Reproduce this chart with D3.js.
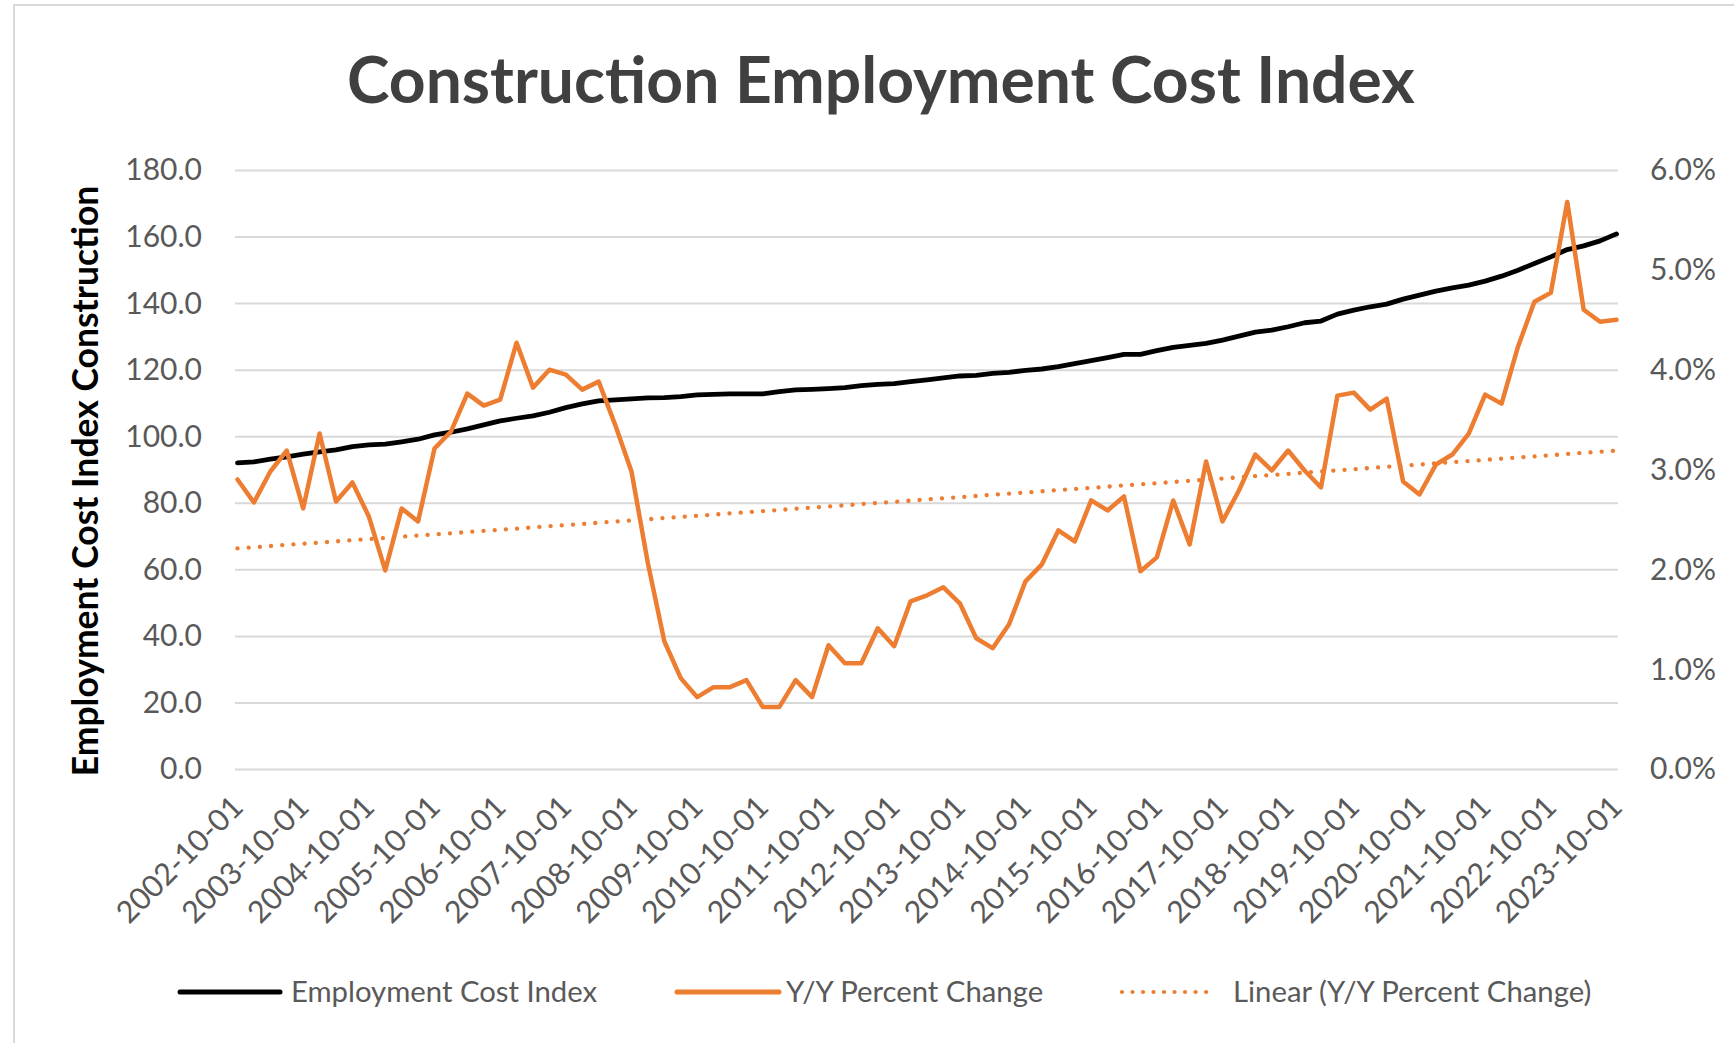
<!DOCTYPE html>
<html><head><meta charset="utf-8">
<script src="https://cdn.jsdelivr.net/npm/d3@7"></script>
<style>html,body{margin:0;padding:0;background:#fff;overflow:hidden}</style>
</head><body><svg id="c" width="1734" height="1043"></svg>
<script>
// ---------- data ----------
const chartTitle = "Construction Employment Cost Index";
const yAxisTitle = "Employment Cost Index Construction";
const tickLabels = ["2002-10-01","2003-10-01","2004-10-01","2005-10-01","2006-10-01","2007-10-01",
  "2008-10-01","2009-10-01","2010-10-01","2011-10-01","2012-10-01","2013-10-01","2014-10-01",
  "2015-10-01","2016-10-01","2017-10-01","2018-10-01","2019-10-01","2020-10-01","2021-10-01",
  "2022-10-01","2023-10-01"];
const quarterMonths = ["01","04","07","10"];
const eciValues = [
  92.0, 92.3, 93.1, 93.8, 94.6, 95.3, 95.9, 96.9, 97.4, 97.6,
  98.3, 99.1,100.4,101.2,102.2,103.4,104.6,105.4,106.1,107.2,
 108.6,109.7,110.6,110.9,111.2,111.5,111.6,111.9,112.4,112.6,
 112.7,112.7,112.7,113.4,113.9,114.1,114.3,114.6,115.2,115.6,
 115.8,116.4,116.9,117.5,118.1,118.3,118.9,119.2,119.8,120.2,
 120.9,121.8,122.7,123.6,124.6,124.6,125.7,126.7,127.3,127.9,
 128.9,130.1,131.3,131.9,132.9,134.1,134.6,136.7,137.9,138.9,
 139.7,141.2,142.4,143.6,144.6,145.4,146.6,148.1,149.9,151.9,
 153.9,156.1,157.2,158.7,160.8];
const yoyValues = [
 2.90,2.67,2.98,3.19,2.61,3.36,2.68,2.87,2.53,1.99,
 2.61,2.48,3.21,3.38,3.76,3.64,3.70,4.27,3.82,4.00,
 3.95,3.80,3.88,3.45,2.98,2.06,1.28,0.91,0.72,0.82,
 0.82,0.89,0.62,0.62,0.89,0.72,1.24,1.06,1.06,1.41,
 1.23,1.68,1.74,1.82,1.66,1.31,1.21,1.45,1.88,2.05,
 2.39,2.28,2.69,2.59,2.73,1.98,2.12,2.69,2.25,3.08,
 2.48,2.79,3.15,2.99,3.19,2.99,2.82,3.74,3.77,3.60,
 3.71,2.88,2.75,3.05,3.15,3.36,3.75,3.66,4.23,4.68,
 4.77,5.68,4.60,4.48,4.50];
const trendEnds = [2.21, 3.19];   // linear trendline at first and last quarter
const leftTicks = [0,20,40,60,80,100,120,140,160,180];
const rightTicks = [0,1,2,3,4,5,6];
const legendLabels = ["Employment Cost Index","Y/Y Percent Change","Linear (Y/Y Percent Change)"];

// quarterly categories 2002-10-01 .. 2023-10-01
const quarters = [];
for (let y = 2002; y <= 2023; y++) for (const m of quarterMonths) {
  const s = `${y}-${m}-01`;
  if (s >= "2002-10-01" && s <= "2023-10-01") quarters.push(s);
}

// ---------- layout ----------
const FONT = "Lato, 'Open Sans', sans-serif";
const svg = d3.select("#c");
const plotL = 235, plotR = 1618, plotT = 170, plotB = 769;
const orange = "#ED7D31", grid = "#D9D9D9", txt = "#595959";

svg.append("rect").attr("x",14).attr("y",5).attr("width",1760).attr("height",1080)
  .attr("fill","#fff").attr("stroke","#D9D9D9").attr("stroke-width",2);

const x = d3.scalePoint().domain(quarters).range([237.5, 1616.5]);
const yL = d3.scaleLinear().domain([0,180]).range([plotB, plotT]);
const yR = d3.scaleLinear().domain([0,6]).range([plotB, plotT]);

// gridlines
const gGrid = svg.append("g").attr("transform",`translate(${plotL},0)`)
  .call(d3.axisLeft(yL).tickValues(leftTicks).tickSize(-(plotR-plotL)).tickFormat(""));
gGrid.select(".domain").remove();
gGrid.selectAll("line").attr("stroke",grid).attr("stroke-width",2);

// left axis
const gL = svg.append("g").attr("transform",`translate(${plotL},0)`)
  .call(d3.axisLeft(yL).tickValues(leftTicks).tickSize(0).tickPadding(33).tickFormat(d3.format(".1f")));
gL.select(".domain").remove();
gL.selectAll("text").attr("font-family",FONT).attr("font-size",30).attr("fill",txt).attr("dy","0.33em");

// right axis
const gR = svg.append("g").attr("transform",`translate(${plotR},0)`)
  .call(d3.axisRight(yR).tickValues(rightTicks).tickSize(0).tickPadding(32).tickFormat(d => d.toFixed(1)+"%"));
gR.select(".domain").remove();
gR.selectAll("text").attr("font-family",FONT).attr("font-size",30).attr("fill",txt).attr("dy","0.33em");

// x axis
const gX = svg.append("g").attr("transform",`translate(0,${plotB})`)
  .call(d3.axisBottom(x).tickValues(tickLabels).tickSize(0));
gX.select(".domain").remove();
gX.selectAll("text").attr("font-family",FONT).attr("font-size",30.5).attr("fill",txt)
  .attr("x",0).attr("y",0).attr("dy",0).attr("text-anchor","end")
  .attr("transform","translate(7,40) rotate(-45)");

// lines
const lineL = d3.line().x((d,i) => x(quarters[i])).y(d => yL(d));
const lineR = d3.line().x((d,i) => x(quarters[i])).y(d => yR(d));
svg.append("path").datum(eciValues).attr("d",lineL).attr("fill","none")
  .attr("stroke","#000").attr("stroke-width",4.8).attr("stroke-linejoin","round").attr("stroke-linecap","round");
svg.append("path").datum(yoyValues).attr("d",lineR).attr("fill","none")
  .attr("stroke",orange).attr("stroke-width",4.5).attr("stroke-linejoin","round").attr("stroke-linecap","round");
svg.append("line")
  .attr("x1",x(quarters[0])).attr("y1",yR(trendEnds[0]))
  .attr("x2",x(quarters[quarters.length-1])).attr("y2",yR(trendEnds[1]))
  .attr("stroke",orange).attr("stroke-width",4.3).attr("stroke-linecap","round")
  .attr("stroke-dasharray","0.01 11.2");

// title
const t = svg.append("text").text(chartTitle).attr("font-family",FONT).attr("font-weight",700)
  .attr("font-size",60).attr("fill","#404040").attr("x",347).attr("y",103);
{ const w = t.node().getComputedTextLength(); t.attr("font-size", 60*1068/w); }

// y axis title
const yt = svg.append("text").text(yAxisTitle).attr("font-family",FONT).attr("font-weight",700)
  .attr("font-size",30).attr("fill","#000").attr("text-anchor","middle")
  .attr("transform","translate(98,481) rotate(-90)");
{ const w = yt.node().getComputedTextLength(); yt.attr("font-size", 30*591/w); }

// legend
const legY = 992;
const legItems = [
  {x1:180,x2:280,tx:291,color:"#000",dash:null,w:5},
  {x1:677,x2:779,tx:786,color:orange,dash:null,w:5},
  {x1:1122,x2:1216,tx:1233,color:orange,dash:"0.01 10.5",w:4.2}
];
legItems.forEach((it,i) => {
  const l = svg.append("line").attr("x1",it.x1).attr("x2",it.x2).attr("y1",legY).attr("y2",legY)
    .attr("stroke",it.color).attr("stroke-width",it.w).attr("stroke-linecap","round");
  if (it.dash) l.attr("stroke-dasharray",it.dash);
  svg.append("text").text(legendLabels[i]).attr("x",it.tx).attr("y",legY).attr("dy","0.35em")
    .attr("font-family",FONT).attr("font-size",29.3).attr("fill",txt);
});
</script></body></html>
